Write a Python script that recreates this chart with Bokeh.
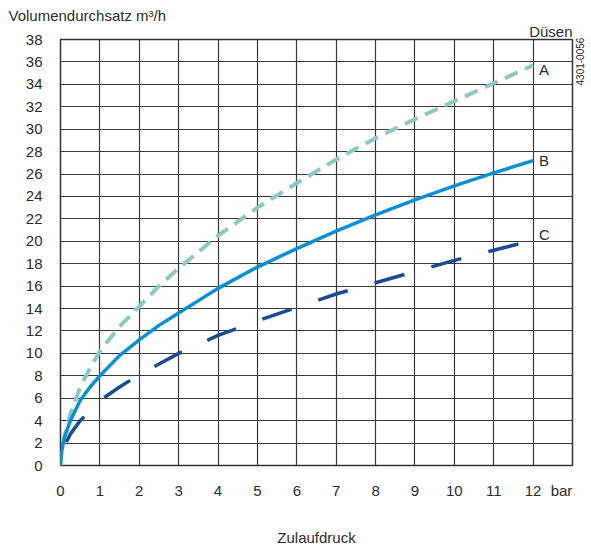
import math
from bokeh.plotting import figure
from bokeh.models import FixedTicker, Label, Title, LinearAxis
from bokeh.embed import file_html
from bokeh.resources import INLINE

# Zulaufdruck (bar) vs Volumendurchsatz (m3/h)
xa = [0, 0.02, 0.1, 0.25, 0.5, 0.75, 1, 1.5, 2, 2.5, 3, 4, 5, 6, 7, 8, 9, 10, 11, 12]
ya = [0, 1.0, 2.6, 4.6, 7.0, 8.7, 10.2, 12.4, 14.2, 16.0, 17.6, 20.5, 23.0, 25.2, 27.3, 29.2, 30.9, 32.5, 34.1, 35.7]
xb = [0, 0.02, 0.1, 0.25, 0.5, 0.75, 1, 1.5, 2, 2.5, 3, 4, 5, 6, 7, 8, 9, 10, 11, 12]
yb = [0, 1.1, 2.5, 4.0, 5.8, 7.0, 8.0, 9.8, 11.2, 12.5, 13.6, 15.8, 17.7, 19.35, 20.9, 22.35, 23.7, 24.95, 26.1, 27.2]
xc = [0.15, 0.25, 0.5, 1, 1.5, 2, 3, 4, 5, 6, 7, 8, 9, 10, 11, 12]
yc = [2.1, 2.8, 4.0, 5.8, 7.0, 8.1, 10.0, 11.6, 12.9, 14.1, 15.3, 16.3, 17.3, 18.3, 19.2, 20.1]
series_labels = ["A", "B", "C"]
x_ticks = list(range(13))
y_ticks = list(range(0, 39, 2))

FONT = "Liberation Sans"
TXT = "#2b2b2b"
FS = "15px"

p = figure(width=591, height=548, output_backend="svg", toolbar_location=None,
           x_range=(0, 13), y_range=(0, 38),
           min_border_left=60, min_border_right=15, min_border_top=39, min_border_bottom=76)
p.outline_line_color = "#333333"
p.outline_line_width = 1.5

# titles above (the later one sits nearer the frame)
p.title.text = "Volumendurchsatz m³/h"
p.title.align = "left"
p.title.offset = -52
p.title.standoff = -6
p.title.text_font = FONT
p.title.text_font_size = FS
p.title.text_font_style = "normal"
p.title.text_color = TXT
p.add_layout(Title(text="Düsen", align="right", offset=0, standoff=0,
                   text_font=FONT, text_font_size=FS, text_font_style="normal",
                   text_color=TXT), "above")

p.xaxis.ticker = FixedTicker(ticks=x_ticks + [12.72])
p.xaxis.major_label_overrides = {12.72: "bar"}
p.yaxis.ticker = FixedTicker(ticks=y_ticks)
for ax in (p.xaxis, p.yaxis):
    ax.axis_line_color = None
    ax.major_tick_line_color = None
    ax.minor_tick_line_color = None
    ax.major_label_text_font = FONT
    ax.major_label_text_font_size = FS
    ax.major_label_text_color = TXT
p.xaxis.major_label_standoff = 10
p.yaxis.major_label_standoff = 12
p.xaxis.axis_label = "Zulaufdruck"
p.xaxis.axis_label_text_font = FONT
p.xaxis.axis_label_text_font_size = FS
p.xaxis.axis_label_text_font_style = "normal"
p.xaxis.axis_label_text_color = TXT
p.xaxis.axis_label_standoff = 27

# small vertical code on the right
code_axis = LinearAxis(ticker=FixedTicker(ticks=[33.9]), major_label_overrides={33.9: "4301-0056"},
                       axis_line_color=None, major_tick_line_color=None, minor_tick_line_color=None,
                       major_label_standoff=2, major_label_orientation=math.pi / 2,
                       major_label_text_font=FONT, major_label_text_font_size="10px",
                       major_label_text_color=TXT)
p.add_layout(code_axis, "right")

p.xgrid.ticker = FixedTicker(ticks=list(range(14)))
p.ygrid.ticker = FixedTicker(ticks=y_ticks)
for g in (p.xgrid, p.ygrid):
    g.grid_line_color = "#3a3a3a"
    g.grid_line_width = 1.2

p.line(xa, ya, line_color="#8cc9c4", line_width=4, line_dash="14 8", line_join="round")
p.line(xb, yb, line_color="#0b8fd5", line_width=3.5, line_join="round")
p.line(xc, yc, line_color="#1c4b91", line_width=3.5, line_dash="31 28", line_join="round")

ends = [(xa[-1], ya[-1]), (xb[-1], yb[-1]), (xc[-1], yc[-1])]
label_dy = [-0.4, 0.0, 0.5]
for lab, (ex, ey), dy in zip(series_labels, ends, label_dy):
    p.add_layout(Label(x=ex + 0.15, y=ey + dy, text=lab, text_font=FONT, text_font_size=FS,
                       text_color=TXT, text_baseline="middle", text_align="left"))

open("out.html", "w").write(file_html(p, INLINE))
